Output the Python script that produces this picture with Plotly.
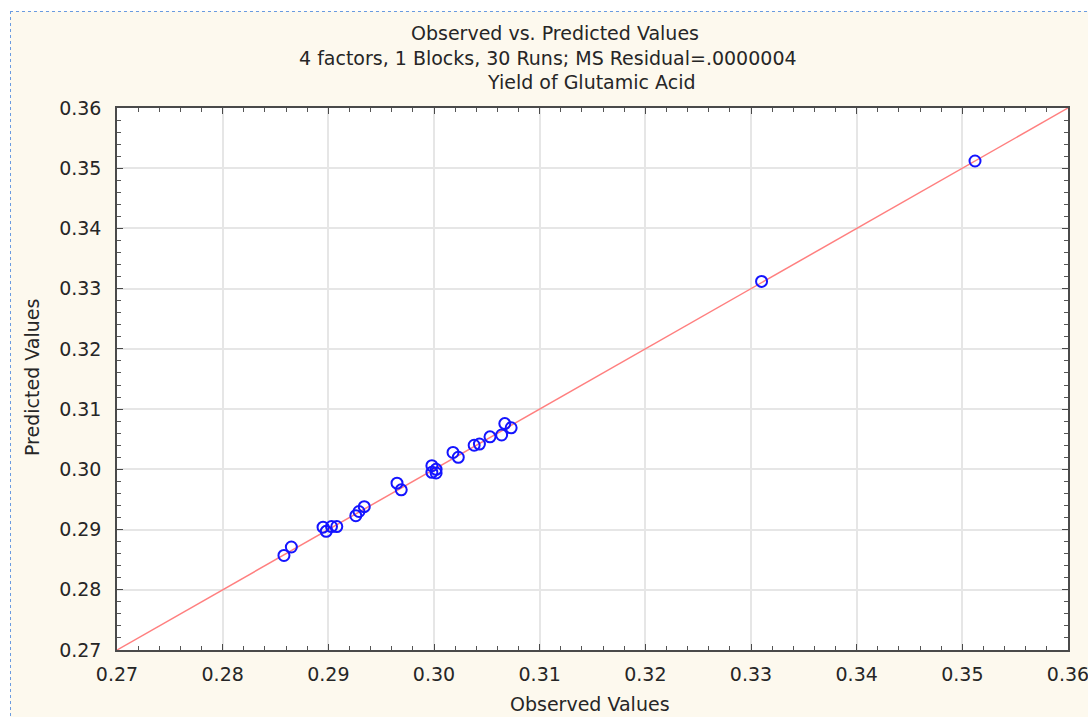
import plotly.graph_objects as go

observed = [0.2858, 0.2865, 0.2895, 0.2898, 0.2903, 0.2908, 0.2926, 0.2929, 0.2934,
            0.2965, 0.2969, 0.2998, 0.2998, 0.3002, 0.3002, 0.3018, 0.3023, 0.3038,
            0.3043, 0.3053, 0.3064, 0.3067, 0.3073, 0.3310, 0.3512]
predicted = [0.2857, 0.2871, 0.2904, 0.2897, 0.2905, 0.2905, 0.2923, 0.2930, 0.2938,
             0.2977, 0.2966, 0.3006, 0.2995, 0.3000, 0.2994, 0.3028, 0.3020, 0.3040,
             0.3042, 0.3054, 0.3057, 0.3076, 0.3069, 0.3312, 0.3512]
line_ends = [0.27, 0.36]
tick_vals = [0.27, 0.28, 0.29, 0.30, 0.31, 0.32, 0.33, 0.34, 0.35, 0.36]
tick_text = ["0.27", "0.28", "0.29", "0.30", "0.31", "0.32", "0.33", "0.34", "0.35", "0.36"]

FONT = "DejaVu Sans, Arial, sans-serif"
TXT = "#262626"

fig = go.Figure()
fig.add_trace(go.Scatter(x=line_ends, y=line_ends, mode="lines",
                         line=dict(color="#FF7F7F", width=1.5), hoverinfo="skip"))
fig.add_trace(go.Scatter(x=observed, y=predicted, mode="markers",
                         marker=dict(symbol="circle-open", size=11, color="#1414FF",
                                     line=dict(width=2, color="#1414FF"))))

axis_common = dict(
    range=[0.27, 0.36], tickvals=tick_vals, ticktext=tick_text,
    showgrid=True, gridcolor="#E6E6E6", gridwidth=1.5,
    showline=True, linecolor="#4A4A4A", linewidth=1.5, mirror="ticks",
    ticks="inside", ticklen=6, tickcolor="#4A4A4A",
    minor=dict(ticks="inside", dtick=0.002, ticklen=4, tickcolor="#555555", showgrid=False),
    tickfont=dict(family=FONT, size=19, color=TXT),
    zeroline=False, ticklabeloverflow="allow", automargin=False,
)

fig.update_xaxes(**axis_common, ticklabelstandoff=6)
fig.update_yaxes(**axis_common, ticklabelstandoff=10)

W, H = 1088, 717
L, R, T, B = 117, 20, 108, 67
pw, ph = W - L - R, H - T - B

def px(x):
    return (x - L) / pw

def py(y):
    return (H - B - y) / ph

annos = [
    ("Observed vs. Predicted Values", 555, 33),
    ("4 factors, 1 Blocks, 30 Runs; MS Residual=.0000004", 548, 58),
    ("Yield of Glutamic Acid", 591, 82),
]
ann = []
for txt, ax_, ay_ in annos:
    ann.append(dict(text=txt, x=px(ax_), y=py(ay_), xref="paper", yref="paper",
                    showarrow=False, xanchor="center", yanchor="middle",
                    font=dict(family=FONT, size=19, color=TXT)))
ann.append(dict(text="Observed Values", x=px(590), y=py(704), xref="paper", yref="paper",
                showarrow=False, xanchor="center", yanchor="middle",
                font=dict(family=FONT, size=19, color=TXT)))
ann.append(dict(text="Predicted Values", x=px(32), y=py(378), xref="paper", yref="paper",
                showarrow=False, xanchor="center", yanchor="middle", textangle=-90,
                font=dict(family=FONT, size=19, color=TXT)))

shapes = [
    dict(type="rect", xref="paper", yref="paper", x0=px(-5), x1=px(1100), y0=py(11), y1=py(-5),
         fillcolor="white", line=dict(width=0), layer="below"),
    dict(type="rect", xref="paper", yref="paper", x0=px(-5), x1=px(10), y0=py(730), y1=py(-5),
         fillcolor="white", line=dict(width=0), layer="below"),
    dict(type="line", xref="paper", yref="paper", x0=px(10), x1=px(1100), y0=py(11.5), y1=py(11.5),
         line=dict(color="#6A9BE0", width=1, dash="dot")),
    dict(type="line", xref="paper", yref="paper", x0=px(10.5), x1=px(10.5), y0=py(11), y1=py(730),
         line=dict(color="#6A9BE0", width=1, dash="dot")),
]

fig.update_layout(
    width=W, height=H,
    margin=dict(l=L, r=R, t=T, b=B, autoexpand=False),
    paper_bgcolor="#FDF9EE", plot_bgcolor="white",
    showlegend=False,
    annotations=ann, shapes=shapes,
)

fig.write_html("out.html", config={"displayModeBar": False},
               post_script="document.body.style.margin='0';document.body.style.padding='0';")
